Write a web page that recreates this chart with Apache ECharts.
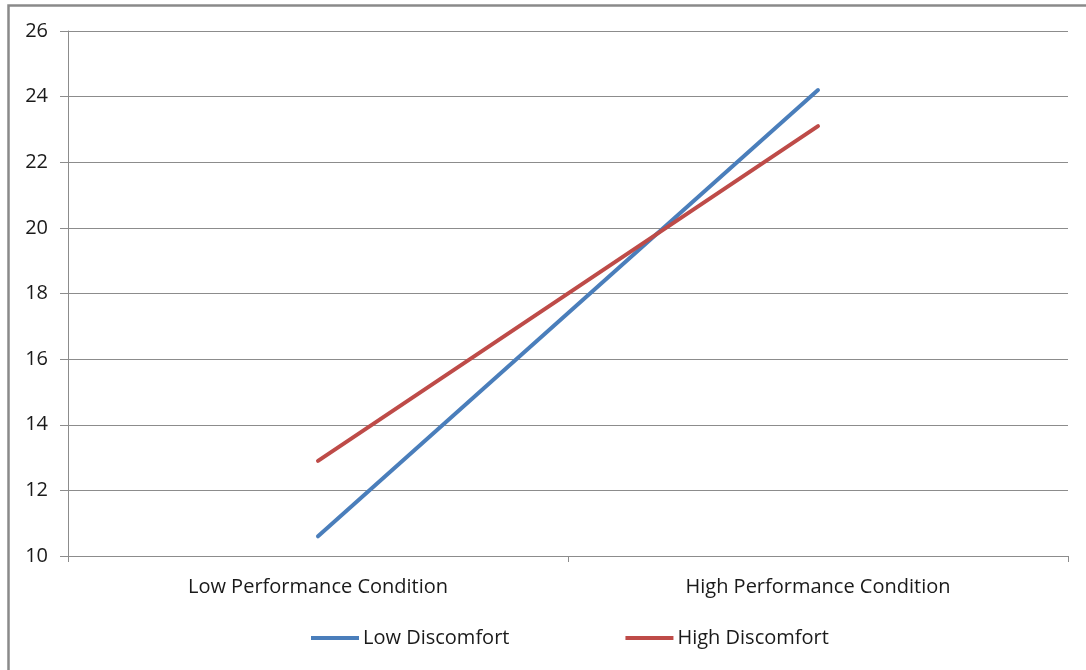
<!DOCTYPE html>
<html><head><meta charset="utf-8">
<script src="https://cdn.jsdelivr.net/npm/echarts@6/dist/echarts.min.js"></script>
<style>html,body{margin:0;padding:0;background:#fff;}#c{width:1086px;height:670px;}</style>
</head><body><div id="c"></div>
<script>
var categories = ['Low Performance Condition', 'High Performance Condition'];
var lowDiscomfort = [10.6, 24.2];
var highDiscomfort = [12.9, 23.1];
var yTicks = {min: 10, max: 26, interval: 2};

var chart = echarts.init(document.getElementById('c'));
var font = 'Open Sans';
chart.setOption({
  animation: false,
  backgroundColor: '#fff',
  graphic: [{type: 'rect', shape: {x: 8.5, y: 5.5, width: 1100, height: 700}, style: {fill: 'none', stroke: '#8a8a8a', lineWidth: 2.5}, z: 100}],
  grid: {left: 68, right: 18, top: 31, bottom: 114},
  legend: {
    data: ['Low Discomfort', 'High Discomfort'],
    top: 623, left: 306, padding: 5,
    icon: 'rect', itemWidth: 48, itemHeight: 4, itemGap: 116,
    textStyle: {fontFamily: font, fontSize: 20, color: '#1a1a1a', padding: [0,0,0,-1]}
  },
  xAxis: {
    type: 'category', data: categories, boundaryGap: true,
    axisLine: {lineStyle: {color: '#8c8c8c', width: 1}},
    axisTick: {show: true, alignWithLabel: false, length: 6, lineStyle: {color: '#8c8c8c'}},
    axisLabel: {fontFamily: font, fontSize: 20, color: '#1a1a1a', margin: 21}
  },
  yAxis: {
    type: 'value', min: yTicks.min, max: yTicks.max, interval: yTicks.interval,
    axisLine: {show: true, lineStyle: {color: '#8c8c8c', width: 1}},
    axisTick: {show: true, length: 8, lineStyle: {color: '#8c8c8c'}},
    splitLine: {lineStyle: {color: '#8c8c8c', width: 1}},
    axisLabel: {fontFamily: font, fontSize: 20, color: '#1a1a1a', margin: 20}
  },
  series: [
    {name: 'Low Discomfort', type: 'line', data: lowDiscomfort, showSymbol: false, symbol: 'none',
     lineStyle: {color: '#4a7ebb', width: 4, cap: 'round'}, itemStyle: {color: '#4a7ebb'}},
    {name: 'High Discomfort', type: 'line', data: highDiscomfort, showSymbol: false, symbol: 'none',
     lineStyle: {color: '#be4b48', width: 4, cap: 'round'}, itemStyle: {color: '#be4b48'}}
  ]
});
</script></body></html>
